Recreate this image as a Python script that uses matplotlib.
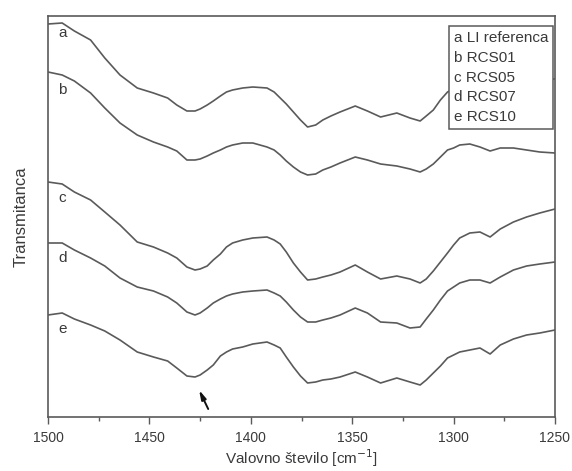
import matplotlib
matplotlib.use("Agg")
import matplotlib.pyplot as plt
from matplotlib.ticker import MultipleLocator

plt.rcParams['font.family'] = ['Liberation Sans', 'DejaVu Sans']

wavenumber = [1500, 1493, 1487, 1479, 1472, 1464.5, 1456, 1448, 1441, 1436.5,
              1431.5, 1427.5, 1425, 1421.5, 1418.5, 1415, 1412, 1409, 1404, 1399,
              1392, 1388.5, 1385.5, 1382.5, 1379, 1375.5, 1372, 1368, 1364.5, 1360.5,
              1356, 1348.5, 1342.5, 1336, 1328, 1321.5, 1316.5, 1313.5, 1310, 1306.5,
              1303, 1300, 1297, 1292, 1287, 1282, 1277, 1270.5, 1264, 1257.5, 1250]

trans_a = [393, 394, 386, 377, 359, 342, 329, 324, 319, 312,
           306, 306, 308, 312, 316, 321, 325, 327, 329, 330,
           329, 325, 319, 313, 305, 297, 290, 292, 297, 301,
           305, 311, 306, 300, 304, 299, 296, 301, 307, 317,
           325, 328, 332, 335, 337, 335, 338, 337, 337, 338, 338]
trans_b = [345, 342, 336, 324, 309, 294, 282, 275, 270, 266,
           257, 257, 258, 261, 264, 267, 270, 272, 274, 274,
           270, 267, 262, 256, 250, 245, 242, 243, 247, 250,
           254, 260, 257, 253, 251, 248, 245, 248, 253, 260,
           267, 269, 272, 273, 270, 266, 269, 269, 267, 265, 264]
trans_c = [235, 233, 225, 217, 205, 192, 175, 170, 164, 159,
           150, 147, 148, 151, 157, 163, 170, 174, 177, 179,
           180, 177, 173, 165, 154, 145, 137, 138, 140, 142,
           145, 152, 145, 138, 141, 138, 134, 138, 146, 155,
           164, 172, 179, 184, 185, 180, 188, 195, 200, 204, 208]
trans_d = [174, 174, 167, 159, 151, 139, 130, 126, 120, 114,
           105, 102, 104, 109, 114, 118, 121, 123, 125, 126,
           127, 124, 121, 115, 107, 100, 95, 95, 97, 99,
           102, 109, 104, 95, 94, 89, 90, 98, 107, 117,
           126, 130, 134, 137, 137, 134, 140, 147, 151, 153, 155]
trans_e = [102, 104, 98, 92, 86, 77, 65, 60, 56, 49,
           41, 40, 42, 47, 52, 61, 65, 68, 70, 73,
           75, 72, 69, 60, 50, 41, 34, 35, 37, 38,
           40, 45, 40, 34, 39, 35, 32, 37, 44, 51,
           59, 62, 65, 67, 69, 63, 72, 78, 82, 84, 87]

curve_letters = ['a', 'b', 'c', 'd', 'e']
legend_labels = ['a LI referenca', 'b RCS01', 'c RCS05', 'd RCS07', 'e RCS10']
letter_y = [384, 327, 219, 159, 88]
x_ticks = [1500, 1450, 1400, 1350, 1300, 1250]

line_col = '#5a5a5a'
text_col = '#3a3a3a'

fig = plt.figure(figsize=(5.72, 4.71), dpi=100)
ax = fig.add_axes([48/572, 1 - 417/471, 507/572, 401/471])

series = [trans_a, trans_b, trans_c, trans_d, trans_e]
handles = []
for ys in series:
    h, = ax.plot(wavenumber, ys, color=line_col, lw=1.2,
                 solid_joinstyle='round', solid_capstyle='round')
    handles.append(h)

for letter, ly in zip(curve_letters, letter_y):
    ax.text(1493, ly, letter, fontsize=11, color=text_col, ha='center', va='center')

ax.annotate('', xy=(1425.5, 27), xytext=(1421, 8),
            arrowprops=dict(arrowstyle='-|>,head_length=0.45,head_width=0.12',
                            color='#111111', lw=1.4, shrinkA=0, shrinkB=0,
                            mutation_scale=12))

ax.set_xlim(1500, 1250)
ax.set_ylim(0, 401)
ax.set_xticks(x_ticks)
ax.xaxis.set_minor_locator(MultipleLocator(25))
ax.set_yticks([])
ax.tick_params(axis='x', which='major', direction='out', length=5, width=1,
               color=line_col, labelsize=10, labelcolor=text_col, pad=5)
ax.tick_params(axis='x', which='minor', direction='out', length=3, width=1, color=line_col)
for s in ax.spines.values():
    s.set_color(line_col)
    s.set_linewidth(1.2)

ax.set_xlabel('Valovno število [cm$^{-1}$]', fontsize=11, color=text_col, labelpad=2)
ax.set_ylabel('Transmitanca', fontsize=12, color=text_col, labelpad=14)

leg = ax.legend(handles, legend_labels, loc='upper right',
                bbox_to_anchor=(0.996, 0.975), borderaxespad=0,
                handlelength=0, handletextpad=0, fontsize=11,
                labelspacing=0.38, fancybox=False, framealpha=1,
                borderpad=0.32, labelcolor=text_col)
leg.get_frame().set_edgecolor(line_col)
leg.get_frame().set_linewidth(1.1)
for h in leg.legend_handles:
    h.set_visible(False)

fig.savefig('out.png', dpi=100)
